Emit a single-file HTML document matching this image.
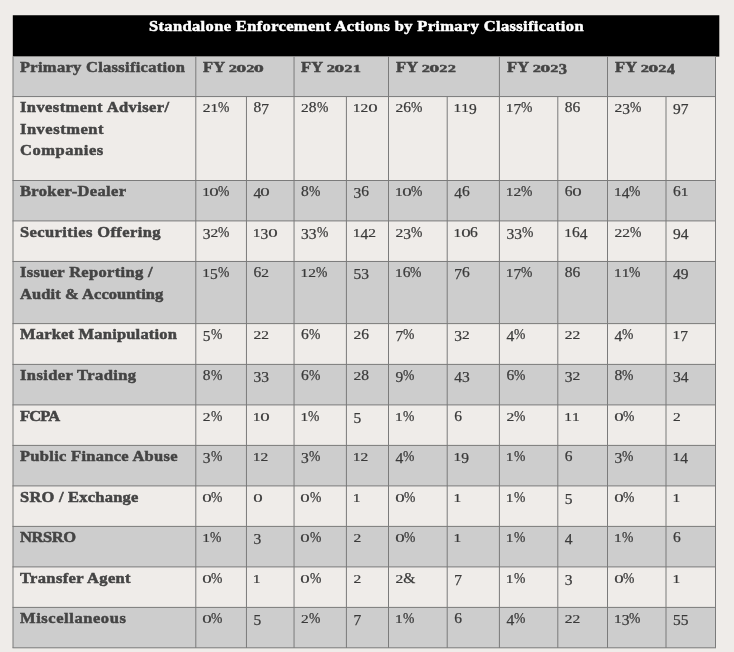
<!DOCTYPE html>
<html><head><meta charset="utf-8"><style>
html,body{margin:0;padding:0}
body{width:734px;height:652px;overflow:hidden;position:relative;background:#efece9;font-family:"Liberation Serif",serif}
svg{position:absolute;left:0;top:0}
.w{position:absolute;left:0;top:0;width:734px;height:652px;will-change:transform}
.w div{position:absolute;white-space:nowrap;line-height:21.6px}
.b{font-weight:bold;font-size:15px;color:#444;-webkit-text-stroke:0.5px #444;transform:scaleX(1.1);transform-origin:0 0}
.ttl{color:#fff;-webkit-text-stroke:0.5px #fff}
.d{font-size:15.5px;color:#3a3a3a;-webkit-text-stroke:0.25px #3a3a3a}
i{font-style:normal}
.x{display:inline-block;transform:scaleY(0.76);transform-origin:50% 16.03px}
.b .x{transform-origin:50% 15.86px}
.z{display:inline-block;transform:scale(1.22,0.76);transform-origin:50% 16.03px;margin:0 0.5px 0 0.3px}
.b .z{transform-origin:50% 15.86px}
.y{position:relative;top:2px}
.p{display:inline-block;transform:scaleX(0.88);transform-origin:0 0}
</style></head><body>
<svg width="734" height="652" viewBox="0 0 734 652">
<rect x="12.8" y="15.25" width="706.5" height="41.35" fill="#000"/>
<rect x="13" y="56.6" width="702.5" height="39.96" fill="#cdcdcd"/>
<rect x="13" y="180.5" width="702.5" height="40.4" fill="#cdcdcd"/>
<rect x="13" y="261.47" width="702.5" height="62.13" fill="#cdcdcd"/>
<rect x="13" y="364.4" width="702.5" height="40.5" fill="#cdcdcd"/>
<rect x="13" y="445.4" width="702.5" height="40.5" fill="#cdcdcd"/>
<rect x="13" y="526.4" width="702.5" height="40.5" fill="#cdcdcd"/>
<rect x="13" y="607.4" width="702.5" height="40.4" fill="#cdcdcd"/>
<rect x="12.5" y="96.06" width="703.5" height="1" fill="#7b7b7b"/>
<rect x="12.5" y="180" width="703.5" height="1" fill="#7b7b7b"/>
<rect x="12.5" y="220.4" width="703.5" height="1" fill="#7b7b7b"/>
<rect x="12.5" y="260.97" width="703.5" height="1" fill="#7b7b7b"/>
<rect x="12.5" y="323.1" width="703.5" height="1" fill="#7b7b7b"/>
<rect x="12.5" y="363.9" width="703.5" height="1" fill="#7b7b7b"/>
<rect x="12.5" y="404.4" width="703.5" height="1" fill="#7b7b7b"/>
<rect x="12.5" y="444.9" width="703.5" height="1" fill="#7b7b7b"/>
<rect x="12.5" y="485.4" width="703.5" height="1" fill="#7b7b7b"/>
<rect x="12.5" y="525.9" width="703.5" height="1" fill="#7b7b7b"/>
<rect x="12.5" y="566.4" width="703.5" height="1" fill="#7b7b7b"/>
<rect x="12.5" y="606.9" width="703.5" height="1" fill="#7b7b7b"/>
<rect x="12.5" y="647.3" width="703.5" height="1" fill="#7b7b7b"/>
<rect x="12.5" y="56.6" width="1" height="39.96" fill="#7b7b7b"/>
<rect x="195.3" y="56.6" width="1" height="39.96" fill="#7b7b7b"/>
<rect x="293.55" y="56.6" width="1" height="39.96" fill="#7b7b7b"/>
<rect x="388" y="56.6" width="1" height="39.96" fill="#7b7b7b"/>
<rect x="498.9" y="56.6" width="1" height="39.96" fill="#7b7b7b"/>
<rect x="607" y="56.6" width="1" height="39.96" fill="#7b7b7b"/>
<rect x="715" y="56.6" width="1" height="39.96" fill="#7b7b7b"/>
<rect x="12.5" y="96.56" width="1" height="551.24" fill="#7b7b7b"/>
<rect x="195.3" y="96.56" width="1" height="551.24" fill="#7b7b7b"/>
<rect x="245.95" y="96.56" width="1" height="551.24" fill="#7b7b7b"/>
<rect x="293.55" y="96.56" width="1" height="551.24" fill="#7b7b7b"/>
<rect x="345.9" y="96.56" width="1" height="551.24" fill="#7b7b7b"/>
<rect x="388" y="96.56" width="1" height="551.24" fill="#7b7b7b"/>
<rect x="446.7" y="96.56" width="1" height="551.24" fill="#7b7b7b"/>
<rect x="498.9" y="96.56" width="1" height="551.24" fill="#7b7b7b"/>
<rect x="557.3" y="96.56" width="1" height="551.24" fill="#7b7b7b"/>
<rect x="607" y="96.56" width="1" height="551.24" fill="#7b7b7b"/>
<rect x="665.5" y="96.56" width="1" height="551.24" fill="#7b7b7b"/>
<rect x="715" y="96.56" width="1" height="551.24" fill="#7b7b7b"/>
</svg>
<div class="w">
<div class="b ttl" style="left:149px;top:16px;letter-spacing:0.317px">Standalone Enforcement Actions by Primary Classification</div>
<div class="b" style="left:20.4px;top:57px;letter-spacing:0.261px">Primary Classification</div>
<div class="b" style="left:202.6px;top:57px;letter-spacing:0.07px">FY <i class="x">2</i><i class="z">0</i><i class="x">2</i><i class="z">0</i></div>
<div class="b" style="left:300.85px;top:57px;letter-spacing:0.07px">FY <i class="x">2</i><i class="z">0</i><i class="x">2</i><i class="x">1</i></div>
<div class="b" style="left:396px;top:57px;letter-spacing:0.07px">FY <i class="x">2</i><i class="z">0</i><i class="x">2</i><i class="x">2</i></div>
<div class="b" style="left:506.5px;top:57px;letter-spacing:0.07px">FY <i class="x">2</i><i class="z">0</i><i class="x">2</i><i class="y">3</i></div>
<div class="b" style="left:615.1px;top:57px;letter-spacing:0.07px">FY <i class="x">2</i><i class="z">0</i><i class="x">2</i><i class="y">4</i></div>
<div class="b" style="left:20.4px;top:97px;letter-spacing:0.381px">Investment Adviser/</div>
<div class="b" style="left:20.4px;top:119px;letter-spacing:0.462px">Investment</div>
<div class="b" style="left:20.4px;top:140px;letter-spacing:0.505px">Companies</div>
<div class="d" style="left:202.8px;top:96px"><i class="x">2</i><i class="x">1</i><i class="p">%</i></div>
<div class="d" style="left:253.45px;top:96px">8<i class="y">7</i></div>
<div class="d" style="left:301.05px;top:96px"><i class="x">2</i>8<i class="p">%</i></div>
<div class="d" style="left:352.8px;top:96px"><i class="x">1</i><i class="x">2</i><i class="z">0</i></div>
<div class="d" style="left:395.5px;top:96px"><i class="x">2</i>6<i class="p">%</i></div>
<div class="d" style="left:453.6px;top:96px"><i class="x">1</i><i class="x">1</i><i class="y">9</i></div>
<div class="d" style="left:505.8px;top:96px"><i class="x">1</i><i class="y">7</i><i class="p">%</i></div>
<div class="d" style="left:564.8px;top:96px">86</div>
<div class="d" style="left:614.5px;top:96px"><i class="x">2</i><i class="y">3</i><i class="p">%</i></div>
<div class="d" style="left:673px;top:96px"><i class="y">9</i><i class="y">7</i></div>
<div class="b" style="left:20.4px;top:181px;letter-spacing:0.330px">Broker-Dealer</div>
<div class="d" style="left:202.2px;top:180px"><i class="x">1</i><i class="z">0</i><i class="p">%</i></div>
<div class="d" style="left:253.45px;top:180px"><i class="y">4</i><i class="z">0</i></div>
<div class="d" style="left:301.05px;top:180px">8<i class="p">%</i></div>
<div class="d" style="left:353.4px;top:180px"><i class="y">3</i>6</div>
<div class="d" style="left:394.9px;top:180px"><i class="x">1</i><i class="z">0</i><i class="p">%</i></div>
<div class="d" style="left:454.2px;top:180px"><i class="y">4</i>6</div>
<div class="d" style="left:505.8px;top:180px"><i class="x">1</i><i class="x">2</i><i class="p">%</i></div>
<div class="d" style="left:564.8px;top:180px">6<i class="z">0</i></div>
<div class="d" style="left:613.9px;top:180px"><i class="x">1</i><i class="y">4</i><i class="p">%</i></div>
<div class="d" style="left:673px;top:180px">6<i class="x">1</i></div>
<div class="b" style="left:20.4px;top:222px;letter-spacing:0.361px">Securities Offering</div>
<div class="d" style="left:202.8px;top:221px"><i class="y">3</i><i class="x">2</i><i class="p">%</i></div>
<div class="d" style="left:252.85px;top:221px"><i class="x">1</i><i class="y">3</i><i class="z">0</i></div>
<div class="d" style="left:301.05px;top:221px"><i class="y">3</i><i class="y">3</i><i class="p">%</i></div>
<div class="d" style="left:352.8px;top:221px"><i class="x">1</i><i class="y">4</i><i class="x">2</i></div>
<div class="d" style="left:395.5px;top:221px"><i class="x">2</i><i class="y">3</i><i class="p">%</i></div>
<div class="d" style="left:453.6px;top:221px"><i class="x">1</i><i class="z">0</i>6</div>
<div class="d" style="left:506.4px;top:221px"><i class="y">3</i><i class="y">3</i><i class="p">%</i></div>
<div class="d" style="left:564.2px;top:221px"><i class="x">1</i>6<i class="y">4</i></div>
<div class="d" style="left:614.5px;top:221px"><i class="x">2</i><i class="x">2</i><i class="p">%</i></div>
<div class="d" style="left:673px;top:221px"><i class="y">9</i><i class="y">4</i></div>
<div class="b" style="left:20.4px;top:262px;letter-spacing:0.289px">Issuer Reporting /</div>
<div class="b" style="left:20.4px;top:284px;letter-spacing:0.065px">Audit &amp; Accounting</div>
<div class="d" style="left:202.2px;top:261px"><i class="x">1</i><i class="y">5</i><i class="p">%</i></div>
<div class="d" style="left:253.45px;top:261px">6<i class="x">2</i></div>
<div class="d" style="left:300.45px;top:261px"><i class="x">1</i><i class="x">2</i><i class="p">%</i></div>
<div class="d" style="left:353.4px;top:261px"><i class="y">5</i><i class="y">3</i></div>
<div class="d" style="left:394.9px;top:261px"><i class="x">1</i>6<i class="p">%</i></div>
<div class="d" style="left:454.2px;top:261px"><i class="y">7</i>6</div>
<div class="d" style="left:505.8px;top:261px"><i class="x">1</i><i class="y">7</i><i class="p">%</i></div>
<div class="d" style="left:564.8px;top:261px">86</div>
<div class="d" style="left:613.9px;top:261px"><i class="x">1</i><i class="x">1</i><i class="p">%</i></div>
<div class="d" style="left:673px;top:261px"><i class="y">4</i><i class="y">9</i></div>
<div class="b" style="left:20.4px;top:324px;letter-spacing:0.169px">Market Manipulation</div>
<div class="d" style="left:202.8px;top:323px"><i class="y">5</i><i class="p">%</i></div>
<div class="d" style="left:253.45px;top:323px"><i class="x">2</i><i class="x">2</i></div>
<div class="d" style="left:301.05px;top:323px">6<i class="p">%</i></div>
<div class="d" style="left:353.4px;top:323px"><i class="x">2</i>6</div>
<div class="d" style="left:395.5px;top:323px"><i class="y">7</i><i class="p">%</i></div>
<div class="d" style="left:454.2px;top:323px"><i class="y">3</i><i class="x">2</i></div>
<div class="d" style="left:506.4px;top:323px"><i class="y">4</i><i class="p">%</i></div>
<div class="d" style="left:564.8px;top:323px"><i class="x">2</i><i class="x">2</i></div>
<div class="d" style="left:614.5px;top:323px"><i class="y">4</i><i class="p">%</i></div>
<div class="d" style="left:672.4px;top:323px"><i class="x">1</i><i class="y">7</i></div>
<div class="b" style="left:20.4px;top:365px;letter-spacing:0.358px">Insider Trading</div>
<div class="d" style="left:202.8px;top:364px">8<i class="p">%</i></div>
<div class="d" style="left:253.45px;top:364px"><i class="y">3</i><i class="y">3</i></div>
<div class="d" style="left:301.05px;top:364px">6<i class="p">%</i></div>
<div class="d" style="left:353.4px;top:364px"><i class="x">2</i>8</div>
<div class="d" style="left:395.5px;top:364px"><i class="y">9</i><i class="p">%</i></div>
<div class="d" style="left:454.2px;top:364px"><i class="y">4</i><i class="y">3</i></div>
<div class="d" style="left:506.4px;top:364px">6<i class="p">%</i></div>
<div class="d" style="left:564.8px;top:364px"><i class="y">3</i><i class="x">2</i></div>
<div class="d" style="left:614.5px;top:364px">8<i class="p">%</i></div>
<div class="d" style="left:673px;top:364px"><i class="y">3</i><i class="y">4</i></div>
<div class="b" style="left:20.4px;top:406px;letter-spacing:-0.821px">FCPA</div>
<div class="d" style="left:202.8px;top:405px"><i class="x">2</i><i class="p">%</i></div>
<div class="d" style="left:252.85px;top:405px"><i class="x">1</i><i class="z">0</i></div>
<div class="d" style="left:300.45px;top:405px"><i class="x">1</i><i class="p">%</i></div>
<div class="d" style="left:353.4px;top:405px"><i class="y">5</i></div>
<div class="d" style="left:394.9px;top:405px"><i class="x">1</i><i class="p">%</i></div>
<div class="d" style="left:454.2px;top:405px">6</div>
<div class="d" style="left:506.4px;top:405px"><i class="x">2</i><i class="p">%</i></div>
<div class="d" style="left:564.2px;top:405px"><i class="x">1</i><i class="x">1</i></div>
<div class="d" style="left:614.5px;top:405px"><i class="z">0</i><i class="p">%</i></div>
<div class="d" style="left:673px;top:405px"><i class="x">2</i></div>
<div class="b" style="left:20.4px;top:446px;letter-spacing:0.257px">Public Finance Abuse</div>
<div class="d" style="left:202.8px;top:445px"><i class="y">3</i><i class="p">%</i></div>
<div class="d" style="left:252.85px;top:445px"><i class="x">1</i><i class="x">2</i></div>
<div class="d" style="left:301.05px;top:445px"><i class="y">3</i><i class="p">%</i></div>
<div class="d" style="left:352.8px;top:445px"><i class="x">1</i><i class="x">2</i></div>
<div class="d" style="left:395.5px;top:445px"><i class="y">4</i><i class="p">%</i></div>
<div class="d" style="left:453.6px;top:445px"><i class="x">1</i><i class="y">9</i></div>
<div class="d" style="left:505.8px;top:445px"><i class="x">1</i><i class="p">%</i></div>
<div class="d" style="left:564.8px;top:445px">6</div>
<div class="d" style="left:614.5px;top:445px"><i class="y">3</i><i class="p">%</i></div>
<div class="d" style="left:672.4px;top:445px"><i class="x">1</i><i class="y">4</i></div>
<div class="b" style="left:20.4px;top:487px;letter-spacing:0.195px">SRO / Exchange</div>
<div class="d" style="left:202.8px;top:486px"><i class="z">0</i><i class="p">%</i></div>
<div class="d" style="left:253.45px;top:486px"><i class="z">0</i></div>
<div class="d" style="left:301.05px;top:486px"><i class="z">0</i><i class="p">%</i></div>
<div class="d" style="left:352.8px;top:486px"><i class="x">1</i></div>
<div class="d" style="left:395.5px;top:486px"><i class="z">0</i><i class="p">%</i></div>
<div class="d" style="left:453.6px;top:486px"><i class="x">1</i></div>
<div class="d" style="left:505.8px;top:486px"><i class="x">1</i><i class="p">%</i></div>
<div class="d" style="left:564.8px;top:486px"><i class="y">5</i></div>
<div class="d" style="left:614.5px;top:486px"><i class="z">0</i><i class="p">%</i></div>
<div class="d" style="left:672.4px;top:486px"><i class="x">1</i></div>
<div class="b" style="left:20.4px;top:527px;letter-spacing:-0.405px">NRSRO</div>
<div class="d" style="left:202.2px;top:526px"><i class="x">1</i><i class="p">%</i></div>
<div class="d" style="left:253.45px;top:526px"><i class="y">3</i></div>
<div class="d" style="left:301.05px;top:526px"><i class="z">0</i><i class="p">%</i></div>
<div class="d" style="left:353.4px;top:526px"><i class="x">2</i></div>
<div class="d" style="left:395.5px;top:526px"><i class="z">0</i><i class="p">%</i></div>
<div class="d" style="left:453.6px;top:526px"><i class="x">1</i></div>
<div class="d" style="left:505.8px;top:526px"><i class="x">1</i><i class="p">%</i></div>
<div class="d" style="left:564.8px;top:526px"><i class="y">4</i></div>
<div class="d" style="left:613.9px;top:526px"><i class="x">1</i><i class="p">%</i></div>
<div class="d" style="left:673px;top:526px">6</div>
<div class="b" style="left:20.4px;top:568px;letter-spacing:0.307px">Transfer Agent</div>
<div class="d" style="left:202.8px;top:567px"><i class="z">0</i><i class="p">%</i></div>
<div class="d" style="left:252.85px;top:567px"><i class="x">1</i></div>
<div class="d" style="left:301.05px;top:567px"><i class="z">0</i><i class="p">%</i></div>
<div class="d" style="left:353.4px;top:567px"><i class="x">2</i></div>
<div class="d" style="left:395.5px;top:567px"><i class="x">2</i>&amp;</div>
<div class="d" style="left:454.2px;top:567px"><i class="y">7</i></div>
<div class="d" style="left:505.8px;top:567px"><i class="x">1</i><i class="p">%</i></div>
<div class="d" style="left:564.8px;top:567px"><i class="y">3</i></div>
<div class="d" style="left:614.5px;top:567px"><i class="z">0</i><i class="p">%</i></div>
<div class="d" style="left:672.4px;top:567px"><i class="x">1</i></div>
<div class="b" style="left:20.4px;top:608px;letter-spacing:0.520px">Miscellaneous</div>
<div class="d" style="left:202.8px;top:607px"><i class="z">0</i><i class="p">%</i></div>
<div class="d" style="left:253.45px;top:607px"><i class="y">5</i></div>
<div class="d" style="left:301.05px;top:607px"><i class="x">2</i><i class="p">%</i></div>
<div class="d" style="left:353.4px;top:607px"><i class="y">7</i></div>
<div class="d" style="left:394.9px;top:607px"><i class="x">1</i><i class="p">%</i></div>
<div class="d" style="left:454.2px;top:607px">6</div>
<div class="d" style="left:506.4px;top:607px"><i class="y">4</i><i class="p">%</i></div>
<div class="d" style="left:564.8px;top:607px"><i class="x">2</i><i class="x">2</i></div>
<div class="d" style="left:613.9px;top:607px"><i class="x">1</i><i class="y">3</i><i class="p">%</i></div>
<div class="d" style="left:673px;top:607px"><i class="y">5</i><i class="y">5</i></div>
</div>
</body></html>
